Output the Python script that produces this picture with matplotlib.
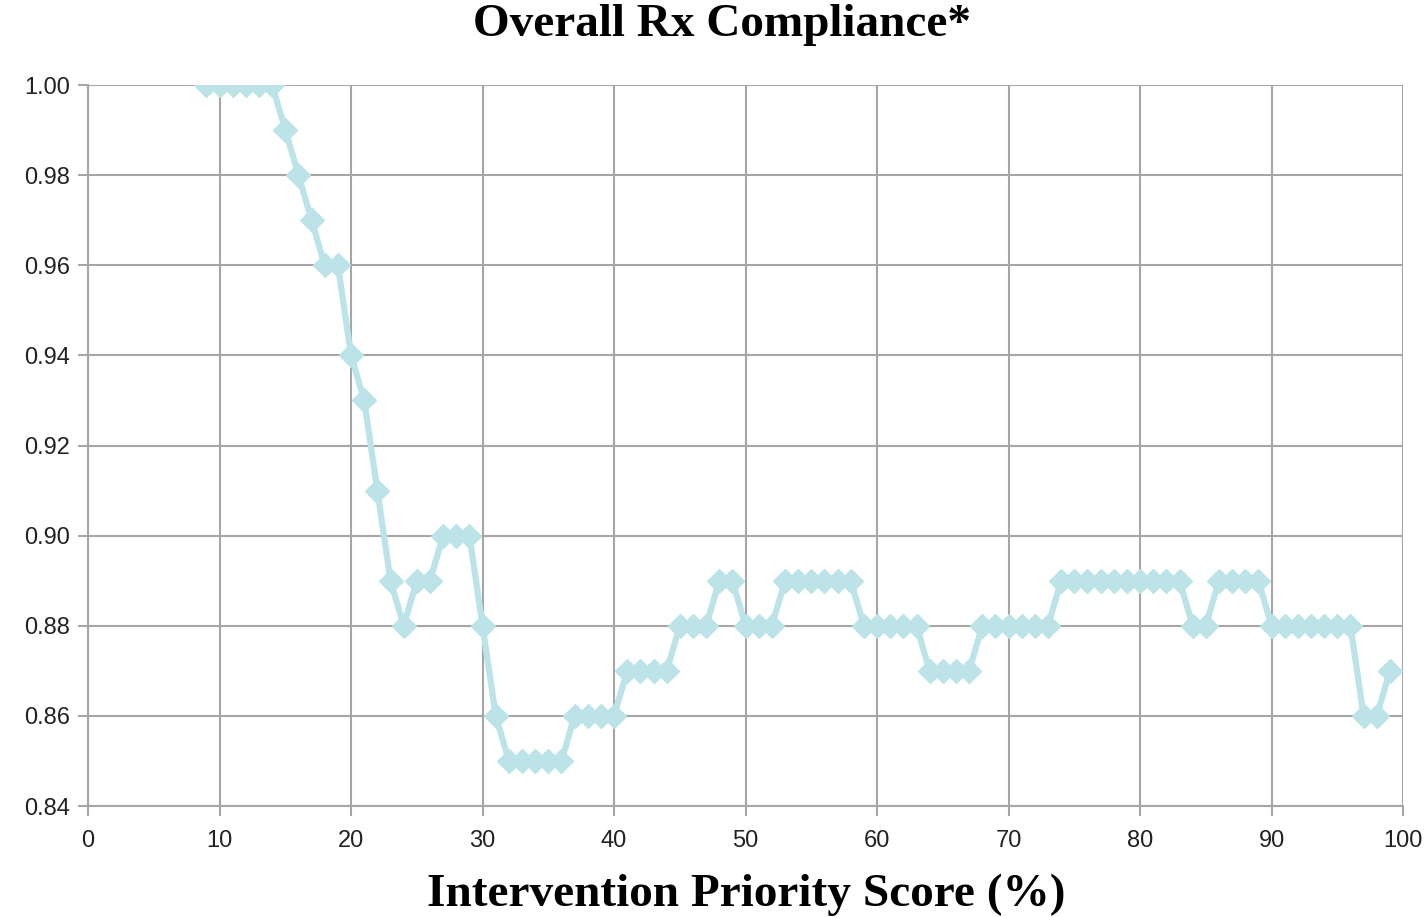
import numpy as np
import matplotlib.pyplot as plt

# Intervention priority score (%) and overall compliance
score = list(range(9, 100))
compliance = (
    [1.00] * 6 +                                        # 9-14
    [0.99, 0.98, 0.97, 0.96, 0.96, 0.94, 0.93, 0.91,    # 15-22
     0.89, 0.88, 0.89, 0.89, 0.90, 0.90, 0.90, 0.88,    # 23-30
     0.86] +                                            # 31
    [0.85] * 5 +                                        # 32-36
    [0.86] * 4 +                                        # 37-40
    [0.87] * 4 +                                        # 41-44
    [0.88] * 3 +                                        # 45-47
    [0.89] * 2 +                                        # 48-49
    [0.88] * 3 +                                        # 50-52
    [0.89] * 6 +                                        # 53-58
    [0.88] * 5 +                                        # 59-63
    [0.87] * 4 +                                        # 64-67
    [0.88] * 6 +                                        # 68-73
    [0.89] * 10 +                                       # 74-83
    [0.88] * 2 +                                        # 84-85
    [0.89] * 4 +                                        # 86-89
    [0.88] * 7 +                                        # 90-96
    [0.86, 0.86, 0.87]                                  # 97-99
)

x_ticks = list(range(0, 101, 10))
y_ticks = [0.84, 0.86, 0.88, 0.90, 0.92, 0.94, 0.96, 0.98, 1.00]

fig = plt.figure(figsize=(14.25, 9.17), dpi=100)
ax = fig.add_axes([0.0618, 0.1210, 0.9228, 0.7863])

ax.plot(score, compliance, color='#bce3e7', lw=4.5, marker='D', ms=12,
        mec='#bce3e7', mfc='#bce3e7', zorder=3)

ax.set_xlim(0, 100)
ax.set_ylim(0.84, 1.00)
ax.set_xticks(x_ticks)
ax.set_yticks(y_ticks)
ax.set_yticklabels([f'{v:.2f}' for v in y_ticks])
ax.grid(True, color='#a6a6a6', lw=1.5)
ax.set_axisbelow(True)

for s in ['top', 'right']:
    ax.spines[s].set_visible(False)
for s in ['left', 'bottom']:
    ax.spines[s].set_color('#a6a6a6')
    ax.spines[s].set_linewidth(1.5)

ax.tick_params(axis='both', length=7, width=1.5, color='#a6a6a6',
               labelsize=17, labelcolor='#222222')
ax.tick_params(axis='x', pad=10)
ax.tick_params(axis='y', pad=6)
for lbl in ax.get_xticklabels() + ax.get_yticklabels():
    lbl.set_fontfamily('Liberation Sans')

fig.text(0.507, 0.973, 'Overall Rx Compliance*', ha='center', va='center',
         fontsize=34, fontweight='bold', family='Liberation Serif')
fig.text(0.524, 0.024, 'Intervention Priority Score (%)', ha='center', va='center',
         fontsize=34, fontweight='bold', family='Liberation Serif')

fig.savefig('out.png', dpi=100)
